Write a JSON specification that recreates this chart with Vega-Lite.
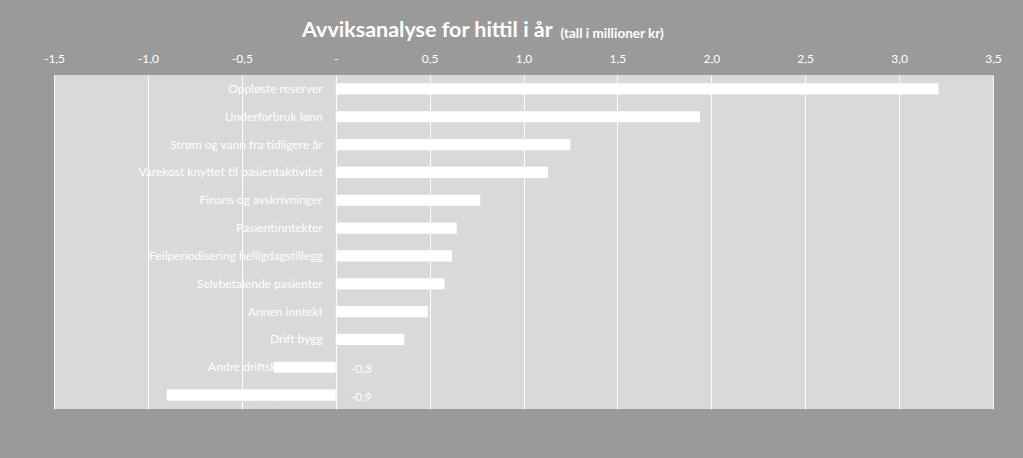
{
  "$schema": "https://vega.github.io/schema/vega-lite/v6.json",
  "autosize": {"type": "none"},
  "width": 939,
  "height": 334,
  "padding": {"left": 54, "top": 75, "right": 30, "bottom": 49},
  "background": "#9a9a9a",
  "title": {
    "text": "Avviksanalyse for hittil i år",
    "anchor": "start",
    "frame": "group",
    "dx": 248,
    "dy": 15,
    "offset": 0,
    "font": "Lato",
    "fontSize": 21.5,
    "fontWeight": "bold",
    "color": "#ffffff"
  },
  "config": {
    "locale": {"number": {"decimal": ",", "thousands": " ", "grouping": [3], "currency": ["", " kr"], "minus": "-"}},
    "view": {"fill": "#d9d9d9", "stroke": null},
    "font": "Lato"
  },
  "data": {
    "values": [
      {"post": "Oppløste reserver", "verdi": 3.21},
      {"post": "Underforbruk lønn", "verdi": 1.94},
      {"post": "Strøm og vann fra tidligere år", "verdi": 1.25},
      {"post": "Varekost knyttet til  pasientaktivitet", "verdi": 1.13},
      {"post": "Finans og avskrivninger", "verdi": 0.77},
      {"post": "Pasientinntekter", "verdi": 0.645},
      {"post": "Feilperiodisering helligdagstillegg", "verdi": 0.62},
      {"post": "Selvbetalende pasienter", "verdi": 0.58},
      {"post": "Annen inntekt", "verdi": 0.49},
      {"post": "Drift bygg", "verdi": 0.365},
      {"post": "Andre driftskostnader", "verdi": -0.33},
      {"post": "Gjestepasienter", "verdi": -0.9}
    ]
  },
  "encoding": {
    "y": {
      "field": "post",
      "type": "nominal",
      "sort": null,
      "scale": {"paddingInner": 0.6, "paddingOuter": 0.3},
      "axis": null
    }
  },
  "layer": [
    {
      "mark": {"type": "text", "align": "right", "baseline": "middle", "dx": -13, "fontSize": 12, "color": "#ffffff"},
      "encoding": {
        "x": {
          "datum": 0,
          "type": "quantitative",
          "scale": {"domain": [-1.5, 3.5], "nice": false, "zero": false},
          "axis": {
            "orient": "top",
            "values": [-1.5, -1, -0.5, 0, 0.5, 1, 1.5, 2, 2.5, 3, 3.5],
            "format": ".1f",
            "labelExpr": "datum.value == 0 ? '-' : datum.label",
            "domain": false,
            "ticks": false,
            "grid": true,
            "gridColor": "#ffffff",
            "gridOpacity": 0.9,
            "gridWidth": 1,
            "labelColor": "#ffffff",
            "labelFontSize": 12,
            "labelFont": "Lato",
            "labelPadding": 10,
            "labelFlush": false,
            "title": "(tall i millioner kr)",
            "titleColor": "#ffffff",
            "titleFont": "Lato",
            "titleFontSize": 13.5,
            "titleFontWeight": "bold",
            "titleAlign": "left",
            "titleAnchor": null,
            "titleBaseline": "alphabetic",
            "titleX": 506,
            "titleY": -38
          }
        },
        "text": {"field": "post"}
      }
    },
    {
      "mark": {"type": "bar", "color": "#ffffff"},
      "encoding": {
        "x": {"field": "verdi", "type": "quantitative"},
        "x2": {"datum": 0}
      }
    },
    {
      "transform": [{"filter": "datum.verdi < 0"}],
      "mark": {"type": "text", "align": "left", "baseline": "middle", "dx": 15, "dy": 2, "fontSize": 12, "color": "#ffffff"},
      "encoding": {
        "x": {"datum": 0, "type": "quantitative"},
        "text": {"field": "verdi", "type": "quantitative", "format": ".1f"}
      }
    }
  ]
}
